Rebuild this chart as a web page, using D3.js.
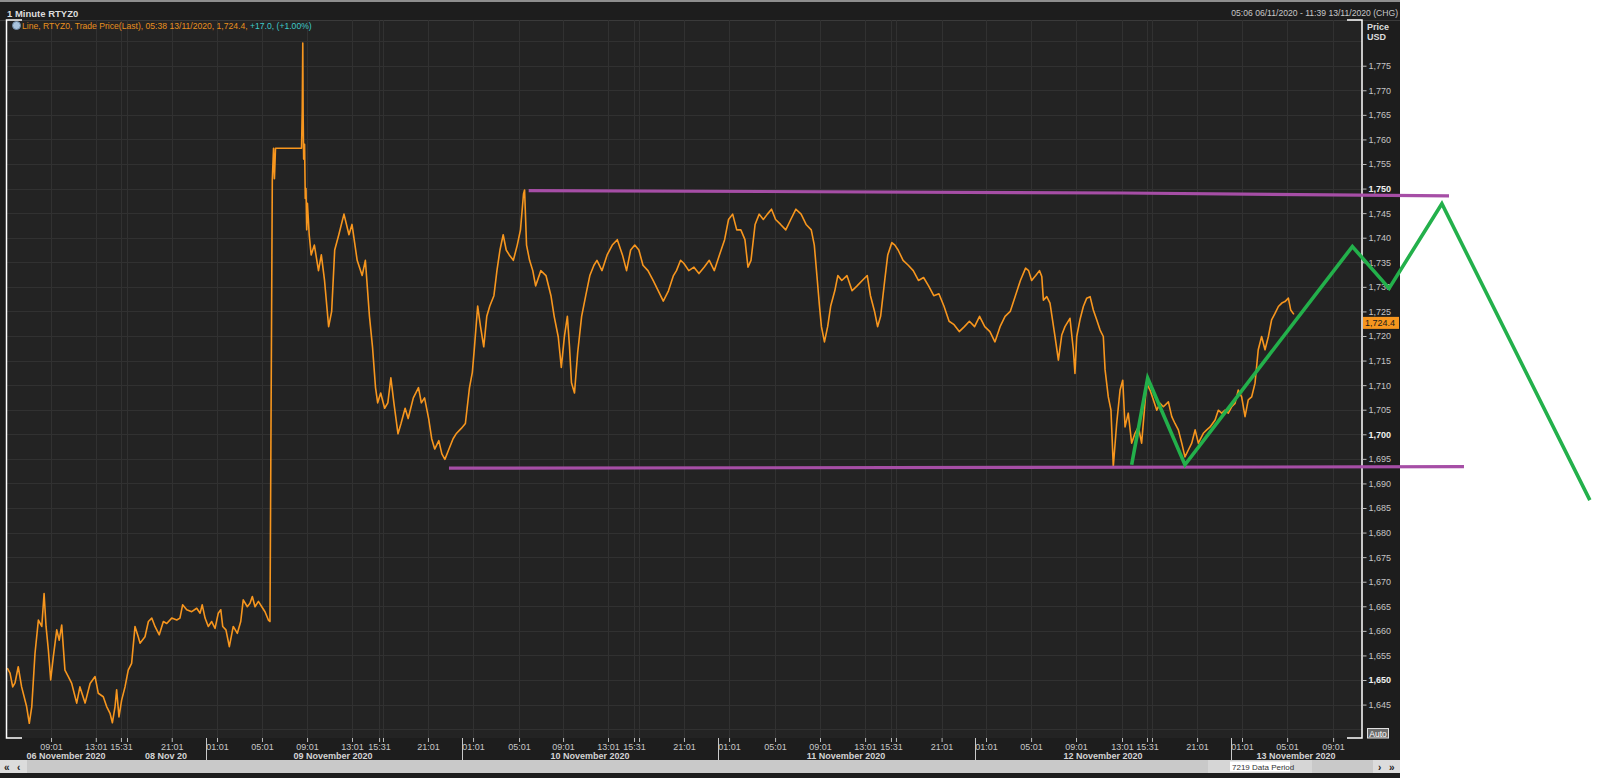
<!DOCTYPE html>
<html><head><meta charset="utf-8">
<script src="https://cdn.jsdelivr.net/npm/d3@7"></script>
<style>
html,body{margin:0;padding:0;background:#fff;}
svg{display:block;}
text{font-family:"Liberation Sans",Arial,sans-serif;}
</style></head><body>
<svg id="chart" width="1600" height="778"></svg>
<script>
// ---------------- DATA ----------------
// 1-minute RTYZ0 trade price, [bar index, price]
const priceSeries = [
[2,1652.4],[17,1651.4],[32,1648.6],[45,1649.4],[63,1652.7],[82,1648.6],[110,1644.6],[125,1641.2],[139,1644.6],[157,1655.4],
[176,1662.2],[195,1660.9],[208,1667.6],[219,1660.9],[232,1656.1],[245,1650],[260,1654.8],[279,1660.2],[293,1658.1],[307,1661.2],
[325,1652],[344,1650.7],[363,1649.3],[391,1645.3],[409,1648.6],[438,1645.3],[466,1649.3],[494,1650.7],[512,1647.3],[540,1646.6],
[559,1644.6],[578,1643.2],[591,1641.3],[606,1644.6],[615,1648],[628,1642.5],[643,1645.9],[662,1648.6],[680,1652],[699,1653.4],
[718,1660.9],[736,1658.8],[746,1657.5],[774,1658.8],[793,1661.9],[812,1662.6],[830,1660.9],[854,1659.2],[877,1661.9],[896,1661.5],
[924,1662.6],[952,1662.2],[970,1662.6],[985,1665.3],[1008,1664.3],[1036,1663.9],[1064,1664.6],[1083,1663.6],[1095,1665.3],[1111,1662.6],
[1129,1660.9],[1148,1661.9],[1167,1660.5],[1185,1663.6],[1199,1664.3],[1210,1660.9],[1228,1660.2],[1247,1656.8],[1269,1660.9],[1292,1659.5],
[1311,1661.9],[1325,1666.3],[1348,1664.9],[1363,1665.6],[1376,1667],[1391,1664.9],[1410,1666],[1429,1664.9],[1447,1663.9],[1466,1662.2],
[1475,1661.9],[1488,1751.7],[1495,1758.2],[1500,1752],[1506,1758.2],[1652,1758.2],[1656,1766],[1659,1779.6],[1661,1765],[1664,1756],
[1669,1759],[1673,1748],[1677,1750],[1681,1741.6],[1685,1747],[1695,1740.6],[1706,1736.5],[1724,1738.5],[1747,1733.3],[1763,1736.5],
[1781,1731.3],[1804,1721.9],[1821,1725],[1838,1737.5],[1861,1740.6],[1890,1744.8],[1918,1740.6],[1935,1742.7],[1964,1735.4],[1992,1732.3],
[2010,1735.4],[2033,1724],[2050,1717.8],[2067,1709.5],[2079,1706.4],[2096,1708.4],[2118,1705.3],[2136,1706.4],[2153,1711.5],[2170,1706.4],
[2193,1700.1],[2210,1702.2],[2233,1705.3],[2250,1703.2],[2279,1707.4],[2308,1709.5],[2324,1706.4],[2342,1707.4],[2365,1703.2],[2382,1699.1],
[2399,1697],[2422,1698.7],[2439,1696],[2456,1694.9],[2479,1697],[2502,1699.1],[2519,1700.1],[2548,1701.2],[2571,1702.2],[2594,1709.5],
[2610,1712.6],[2622,1717.8],[2640,1726.1],[2656,1721.9],[2674,1717.8],[2691,1724],[2708,1726.1],[2731,1728.2],[2748,1733.3],[2765,1737.5],
[2783,1740.6],[2800,1737.5],[2817,1736.5],[2840,1735.4],[2862,1738.5],[2880,1741.6],[2897,1748.9],[2903,1749.7],[2914,1738.5],[2931,1735.4],
[2949,1733.3],[2965,1730.2],[2994,1733.3],[3023,1732.3],[3051,1728.2],[3069,1724],[3092,1719.8],[3109,1713.6],[3126,1719.8],[3143,1724],
[3155,1717.8],[3166,1710.5],[3183,1708.4],[3201,1716.7],[3223,1724],[3246,1728.2],[3269,1732.3],[3292,1734.4],[3309,1735.4],[3337,1733.3],
[3366,1736.5],[3395,1738.5],[3423,1739.6],[3452,1736.5],[3475,1733.3],[3498,1737.5],[3521,1738.5],[3544,1737.5],[3567,1734.4],[3595,1733.3],
[3624,1731.3],[3653,1729.2],[3681,1727.1],[3710,1729.2],[3738,1732.3],[3755,1733.3],[3778,1735.4],[3796,1734.8],[3824,1733.3],[3853,1734],
[3881,1732.7],[3910,1734],[3939,1735.4],[3967,1733.3],[3996,1736.5],[4025,1739.6],[4047,1743.7],[4070,1744.8],[4093,1741.6],[4116,1741.6],
[4139,1739.6],[4156,1734],[4173,1735.4],[4196,1742.7],[4219,1744.8],[4242,1743.7],[4265,1744.8],[4288,1745.8],[4311,1743.7],[4339,1742.7],
[4368,1741.6],[4396,1743.7],[4425,1745.8],[4454,1744.8],[4482,1742.7],[4511,1741.6],[4528,1738.5],[4545,1731.3],[4557,1726.1],[4568,1721.9],
[4585,1718.8],[4603,1721.9],[4620,1726.1],[4643,1729.2],[4660,1732.3],[4682,1731.3],[4711,1732.3],[4740,1729.2],[4768,1730.2],[4797,1731.3],
[4825,1732.3],[4843,1728.2],[4866,1725],[4883,1721.9],[4900,1724],[4923,1731.3],[4940,1736.5],[4963,1739],[4980,1738.5],[4998,1737.5],
[5026,1735.4],[5055,1734.4],[5083,1733.3],[5112,1731.3],[5141,1731.9],[5169,1730.2],[5198,1728.2],[5227,1728.6],[5255,1726.1],[5284,1723],
[5312,1722.3],[5341,1720.9],[5370,1721.9],[5398,1723],[5427,1721.9],[5455,1724],[5484,1721.9],[5513,1720.9],[5541,1718.8],[5570,1721.9],
[5598,1724],[5627,1725],[5656,1728.2],[5684,1731.3],[5713,1733.8],[5730,1733.3],[5747,1731.3],[5770,1732.3],[5791,1733.3],[5804,1732.1],
[5813,1727.3],[5832,1728],[5850,1726.7],[5878,1719.9],[5897,1715.1],[5916,1720.2],[5934,1721.9],[5962,1723.6],[5981,1717.2],[5990,1712.4],
[6000,1719.9],[6018,1723.3],[6037,1726],[6056,1727.7],[6075,1728],[6093,1725.3],[6112,1723.3],[6131,1721.2],[6149,1719.9],[6159,1713.1],
[6177,1707.6],[6192,1704.9],[6205,1693.4],[6224,1702.2],[6243,1709],[6258,1711],[6271,1701.5],[6289,1704.3],[6308,1698.2],[6327,1700.2],
[6346,1701.5],[6364,1698.2],[6392,1710.4],[6411,1709],[6430,1707],[6449,1704.9],[6467,1706.3],[6486,1705.6],[6514,1706.6],[6533,1703.6],
[6551,1702.2],[6570,1700.9],[6589,1698.2],[6607,1695.4],[6626,1696.8],[6645,1698.2],[6664,1700.9],[6682,1698.2],[6710,1700.2],[6729,1700.9],
[6748,1701.5],[6776,1702.9],[6794,1704.9],[6813,1704.3],[6832,1704.9],[6850,1704.3],[6869,1705.6],[6888,1706.3],[6906,1709],[6925,1707.6],
[6944,1703.6],[6962,1707],[6981,1707.6],[7000,1710.4],[7018,1717.2],[7037,1719.9],[7056,1717.2],[7075,1719.9],[7093,1723.3],[7112,1724.6],
[7131,1726],[7150,1726.7],[7168,1727],[7187,1727.7],[7200,1725.3],[7218,1724.4]
];
const lastPrice = 1724.4;
const lastPriceLabel = "1,724.4";

// y axis
const yTickValues = [1645,1650,1655,1660,1665,1670,1675,1680,1685,1690,1695,1700,1705,1710,1715,1720,1725,1730,1735,1740,1745,1750,1755,1760,1765,1770,1775];
const yGridValues = [1640,1645,1650,1655,1660,1665,1670,1675,1680,1685,1690,1695,1700,1705,1710,1715,1720,1725,1730,1735,1740,1745,1750,1755,1760,1765,1770,1775,1780];
const yMajorValues = [1650,1700,1750];

// x axis (bar index of each time tick)
const timeTickIdx = [247,498,639,673,924,1178,1430,1683,1935,2087,2109,2361,2614,2872,3119,3371,3517,3545,3797,4050,4308,4560,4813,4958,4986,5242,5491,5744,5996,6254,6394,6422,6675,6927,7180,7438];
const timeTickLabels = ["09:01","13:01","15:31","","21:01","01:01","05:01","09:01","13:01","15:31","","21:01","01:01","05:01","09:01","13:01","15:31","","21:01","01:01","05:01","09:01","13:01","15:31","","21:01","01:01","05:01","09:01","13:01","15:31","","21:01","01:01","05:01","09:01"];
const daySeparatorIdx = [1115,2552,3988,5429,6865];
const dayLabelIdx = [331,892,1829,3270,4706,6147,7230];
const dayLabels = ["06 November 2020","08 Nov 20","09 November 2020","10 November 2020","11 November 2020","12 November 2020","13 November 2020"];

// drawn annotations: [bar index, price]
const resistanceLine = [[2926,1749.6],[6256,1749.1],[8088,1748.5]];
const supportLine = [[2479,1693.1],[8172,1693.4]];
const patternLine = [[6308,1693.8],[6398,1711.4],[6607,1693.8],[7546,1738.2],[7752,1729.7],[8048,1746.9],[8878,1686.6]];

// texts
const titleText = "1 Minute RTYZ0";
const legendMain = "Line, RTYZ0, Trade Price(Last), 05:38 13/11/2020, 1,724.4, ";
const legendChange = "+17.0, (+1.00%)";
const rangeText = "05:06 06/11/2020 - 11:39 13/11/2020 (CHG)";
const dataPeriodText = "7219 Data Period";

// ---------------- LAYOUT ----------------
const panelW = 1400;
const plot = {left:7, right:1362, top:20, bottom:738};
const svg = d3.select("#chart");
const x = d3.scaleLinear().domain([0,7600]).range([plot.left, plot.right]);
const y = d3.scaleLinear().domain([1638.2,1784.3]).range([plot.bottom, plot.top]);

// panel backgrounds
svg.append("rect").attr("x",0).attr("y",0).attr("width",panelW).attr("height",778).attr("fill","#1d1d1d");
svg.append("rect").attr("x",0).attr("y",0).attr("width",panelW).attr("height",2).attr("fill","#8e8e8e");
svg.append("rect").attr("x",plot.left).attr("y",plot.top).attr("width",plot.right-plot.left).attr("height",plot.bottom-plot.top).attr("fill","#232323");
svg.append("line").attr("x1",0).attr("x2",panelW).attr("y1",plot.top+0.5).attr("y2",plot.top+0.5).attr("stroke","#3a3a3a");

// grid
const grid = svg.append("g");
grid.selectAll("line.h").data(yGridValues).join("line")
  .attr("x1",plot.left).attr("x2",plot.right)
  .attr("y1",d=>Math.round(y(d))+0.5).attr("y2",d=>Math.round(y(d))+0.5)
  .attr("stroke","#313131").attr("stroke-width",1);
grid.selectAll("line.v").data(timeTickIdx).join("line")
  .attr("y1",plot.top).attr("y2",plot.bottom)
  .attr("x1",d=>Math.round(x(d))+0.5).attr("x2",d=>Math.round(x(d))+0.5)
  .attr("stroke","#313131").attr("stroke-width",1);

// price line
const line = d3.line().x(d=>x(d[0])).y(d=>y(d[1])).curve(d3.curveLinear);
svg.append("path").datum(priceSeries).attr("d",line)
  .attr("fill","none").attr("stroke","#f7961e").attr("stroke-width",1.6).attr("stroke-linejoin","round");

// white frame markers
const frame = svg.append("g").attr("stroke","#ffffff").attr("stroke-width",1.5).attr("fill","none");
frame.append("path").attr("d",`M${plot.left+15},${plot.top} H${plot.left-0.5} V${plot.bottom} H${plot.left+15}`);
frame.append("path").attr("d",`M${plot.right-15},${plot.top} H${plot.right} V${plot.bottom} H${plot.right-15}`);

// y axis
const yAxis = d3.axisRight(y).tickValues(yTickValues).tickFormat(d3.format(",")).tickSize(4).tickPadding(2);
const yg = svg.append("g").attr("transform",`translate(${plot.right+0.5},0)`).call(yAxis);
yg.select(".domain").remove();
yg.selectAll(".tick line").attr("stroke","#bdbdbd");
yg.selectAll(".tick text").attr("fill",d=>yMajorValues.includes(d)?"#f0f0f0":"#c4c4c4")
  .attr("font-weight",d=>yMajorValues.includes(d)?"bold":"normal")
  .attr("font-size","9px").attr("font-family","Liberation Sans, Arial, sans-serif");

// x axis
const xAxis = d3.axisBottom(x).tickValues(timeTickIdx).tickFormat((d,i)=>timeTickLabels[i]).tickSize(4).tickPadding(2);
const xg = svg.append("g").attr("transform",`translate(0,${plot.bottom})`).call(xAxis);
xg.select(".domain").remove();
xg.selectAll(".tick line").attr("stroke","#bdbdbd");
xg.selectAll(".tick text").attr("fill","#c8c8c8").attr("font-size","9px").attr("font-family","Liberation Sans, Arial, sans-serif");
svg.append("g").selectAll("line").data(daySeparatorIdx).join("line")
  .attr("x1",d=>Math.round(x(d))+0.5).attr("x2",d=>Math.round(x(d))+0.5)
  .attr("y1",plot.bottom).attr("y2",760).attr("stroke","#c8c8c8");
svg.append("g").selectAll("text").data(dayLabels).join("text")
  .attr("x",(d,i)=>x(dayLabelIdx[i])).attr("y",759).attr("text-anchor","middle")
  .attr("font-size","9px").attr("font-weight","bold").attr("fill","#d4d4d4").text(d=>d);

// Auto button
svg.append("rect").attr("x",1367.5).attr("y",728.5).attr("width",21).attr("height",9.5).attr("fill","#6a6a6a").attr("stroke","#e0e0e0");
svg.append("text").attr("x",1378).attr("y",736.5).attr("text-anchor","middle").attr("font-size","8.5px").attr("fill","#ffffff").text("Auto");

// header
svg.append("text").attr("x",7).attr("y",17).attr("font-size","9.5px").attr("font-weight","bold").attr("fill","#dcdcdc").text(titleText);
svg.append("circle").attr("cx",16.5).attr("cy",25.5).attr("r",4).attr("fill","#a9c3dc").attr("stroke","#6f8aa6");
const lg = svg.append("text").attr("x",22).attr("y",29).attr("font-size","8.6px");
lg.append("tspan").attr("fill","#e8901e").text(legendMain);
lg.append("tspan").attr("fill","#3ec9c9").text(legendChange);
svg.append("text").attr("x",1398).attr("y",16).attr("text-anchor","end").attr("font-size","8.6px").attr("fill","#c8c8c8").text(rangeText);
svg.append("text").attr("x",1367).attr("y",29.5).attr("font-size","9px").attr("font-weight","bold").attr("fill","#dcdcdc").text("Price");
svg.append("text").attr("x",1367).attr("y",40).attr("font-size","9px").attr("font-weight","bold").attr("fill","#dcdcdc").text("USD");

// last price label
const ly = y(lastPrice);
svg.append("rect").attr("x",1363).attr("y",ly+2.5).attr("width",36).attr("height",12).attr("fill","#f7961e");
svg.append("text").attr("x",1365).attr("y",ly+12).attr("font-size","9px").attr("fill","#1a1a1a").text(lastPriceLabel);

// scrollbar
svg.append("rect").attr("x",0).attr("y",760).attr("width",panelW).attr("height",13).attr("fill","#c9c9c9");
svg.append("rect").attr("x",0).attr("y",760).attr("width",27).attr("height",13).attr("fill","#dcdcdc");
svg.append("rect").attr("x",1208).attr("y",760).attr("width",104).attr("height",13).attr("fill","#d6d6d6");
svg.append("rect").attr("x",1230).attr("y",761.5).attr("width",60).attr("height",10).attr("fill","#ffffff");
svg.append("text").attr("x",1232).attr("y",770).attr("font-size","8px").attr("fill","#333").text(dataPeriodText);
svg.append("rect").attr("x",1373).attr("y",760).attr("width",27).attr("height",13).attr("fill","#dcdcdc");
svg.append("text").attr("x",4).attr("y",770.5).attr("font-size","10px").attr("font-weight","bold").attr("fill","#222").text("«");
svg.append("text").attr("x",17).attr("y",770.5).attr("font-size","10px").attr("font-weight","bold").attr("fill","#222").text("‹");
svg.append("text").attr("x",1378).attr("y",770.5).attr("font-size","10px").attr("font-weight","bold").attr("fill","#222").text("›");
svg.append("text").attr("x",1389).attr("y",770.5).attr("font-size","10px").attr("font-weight","bold").attr("fill","#222").text("»");

// annotations
svg.append("path").datum(resistanceLine).attr("d",line).attr("fill","none").attr("stroke","#a64ea6").attr("stroke-width",3.2);
svg.append("path").datum(supportLine).attr("d",line).attr("fill","none").attr("stroke","#a64ea6").attr("stroke-width",3.2);
svg.append("path").datum(patternLine).attr("d",line).attr("fill","none").attr("stroke","#23b04b").attr("stroke-width",3.6).attr("stroke-linejoin","miter");
</script>
</body></html>
